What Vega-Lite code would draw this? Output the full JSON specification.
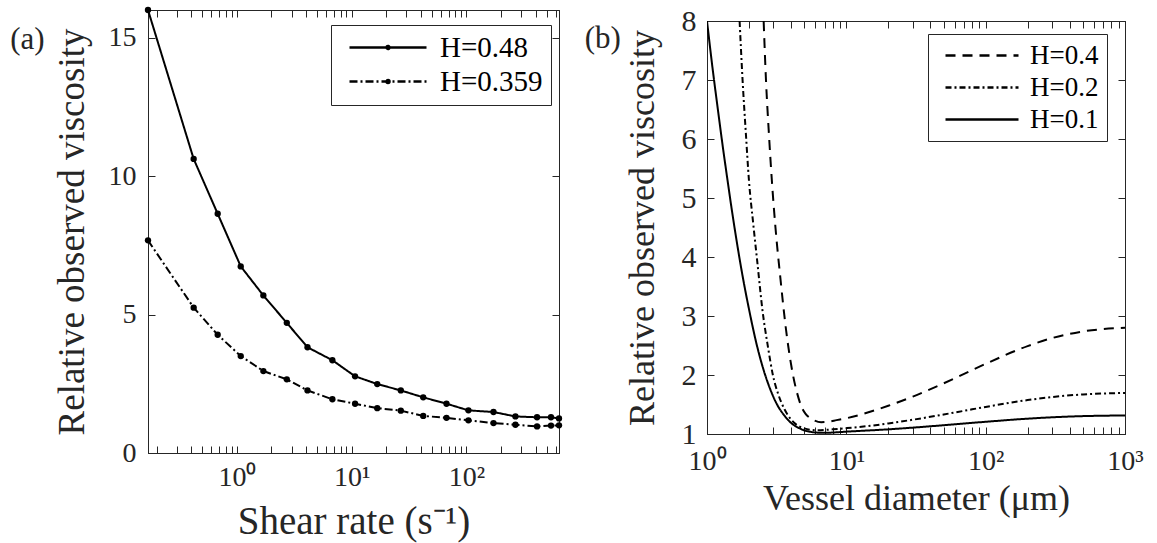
{
  "$schema": "https://vega.github.io/schema/vega-lite/v6.json",
  "background": "white",
  "padding": {"left": 9, "top": 5, "right": 5, "bottom": 5},
  "config": {
    "font": "Liberation Serif",
    "view": {"stroke": "#262626", "strokeWidth": 1},
    "axis": {
      "labelFont": "Liberation Serif", "titleFont": "Liberation Serif",
      "labelFontSize": 28, "titleFontSize": 37, "titleFontWeight": "normal",
      "labelColor": "#262626", "titleColor": "#262626",
      "domainColor": "#262626", "tickColor": "#262626",
      "grid": false, "tickSize": -7, "labelPadding": 10, "labelFlush": false
    },
    "legend": {
      "labelFont": "Liberation Serif", "labelColor": "black",
      "strokeColor": "#262626", "fillColor": "white", "cornerRadius": 0
    },
    "title": {"font": "Liberation Serif", "fontWeight": "normal", "fontSize": 31, "color": "#262626"}
  },
  "datasets": {
    "shear": [
      {"x": 0.168, "y": 16.0, "series": "H=0.48"},
      {"x": 0.42, "y": 10.62, "series": "H=0.48"},
      {"x": 0.68, "y": 8.64, "series": "H=0.48"},
      {"x": 1.08, "y": 6.74, "series": "H=0.48"},
      {"x": 1.7, "y": 5.69, "series": "H=0.48"},
      {"x": 2.72, "y": 4.7, "series": "H=0.48"},
      {"x": 4.12, "y": 3.82, "series": "H=0.48"},
      {"x": 6.79, "y": 3.35, "series": "H=0.48"},
      {"x": 10.7, "y": 2.77, "series": "H=0.48"},
      {"x": 16.7, "y": 2.49, "series": "H=0.48"},
      {"x": 26.8, "y": 2.26, "series": "H=0.48"},
      {"x": 42, "y": 2.01, "series": "H=0.48"},
      {"x": 67, "y": 1.78, "series": "H=0.48"},
      {"x": 104, "y": 1.54, "series": "H=0.48"},
      {"x": 172, "y": 1.48, "series": "H=0.48"},
      {"x": 267, "y": 1.32, "series": "H=0.48"},
      {"x": 412, "y": 1.29, "series": "H=0.48"},
      {"x": 545, "y": 1.29, "series": "H=0.48"},
      {"x": 640, "y": 1.25, "series": "H=0.48"},
      {"x": 0.168, "y": 7.68, "series": "H=0.359"},
      {"x": 0.42, "y": 5.25, "series": "H=0.359"},
      {"x": 0.68, "y": 4.27, "series": "H=0.359"},
      {"x": 1.08, "y": 3.5, "series": "H=0.359"},
      {"x": 1.7, "y": 2.96, "series": "H=0.359"},
      {"x": 2.72, "y": 2.66, "series": "H=0.359"},
      {"x": 4.12, "y": 2.26, "series": "H=0.359"},
      {"x": 6.79, "y": 1.94, "series": "H=0.359"},
      {"x": 10.7, "y": 1.78, "series": "H=0.359"},
      {"x": 16.7, "y": 1.62, "series": "H=0.359"},
      {"x": 26.8, "y": 1.53, "series": "H=0.359"},
      {"x": 42, "y": 1.34, "series": "H=0.359"},
      {"x": 67, "y": 1.27, "series": "H=0.359"},
      {"x": 104, "y": 1.18, "series": "H=0.359"},
      {"x": 172, "y": 1.08, "series": "H=0.359"},
      {"x": 267, "y": 1.02, "series": "H=0.359"},
      {"x": 412, "y": 0.96, "series": "H=0.359"},
      {"x": 545, "y": 0.99, "series": "H=0.359"},
      {"x": 640, "y": 1.0, "series": "H=0.359"}
    ],
    "vessel": [
      {"x": 2.55, "y": 8.0, "series": "H=0.4"},
      {"x": 2.65, "y": 7.0, "series": "H=0.4"},
      {"x": 2.78, "y": 6.1, "series": "H=0.4"},
      {"x": 2.92, "y": 5.3, "series": "H=0.4"},
      {"x": 3.1, "y": 4.5, "series": "H=0.4"},
      {"x": 3.36, "y": 3.65, "series": "H=0.4"},
      {"x": 3.7, "y": 2.75, "series": "H=0.4"},
      {"x": 4.14, "y": 2.0, "series": "H=0.4"},
      {"x": 4.45, "y": 1.68, "series": "H=0.4"},
      {"x": 4.75, "y": 1.47, "series": "H=0.4"},
      {"x": 5.1, "y": 1.34, "series": "H=0.4"},
      {"x": 5.5, "y": 1.27, "series": "H=0.4"},
      {"x": 5.9, "y": 1.23, "series": "H=0.4"},
      {"x": 6.6, "y": 1.2, "series": "H=0.4"},
      {"x": 7.5, "y": 1.21, "series": "H=0.4"},
      {"x": 8.5, "y": 1.235, "series": "H=0.4"},
      {"x": 10, "y": 1.267, "series": "H=0.4"},
      {"x": 15, "y": 1.381, "series": "H=0.4"},
      {"x": 20, "y": 1.478, "series": "H=0.4"},
      {"x": 30, "y": 1.634, "series": "H=0.4"},
      {"x": 50, "y": 1.859, "series": "H=0.4"},
      {"x": 70, "y": 2.019, "series": "H=0.4"},
      {"x": 100, "y": 2.189, "series": "H=0.4"},
      {"x": 200, "y": 2.49, "series": "H=0.4"},
      {"x": 300, "y": 2.626, "series": "H=0.4"},
      {"x": 500, "y": 2.739, "series": "H=0.4"},
      {"x": 1000, "y": 2.8, "series": "H=0.4"},
      {"x": 1.714, "y": 8.0, "series": "H=0.2"},
      {"x": 1.8, "y": 7.0, "series": "H=0.2"},
      {"x": 1.9, "y": 6.1, "series": "H=0.2"},
      {"x": 2.0, "y": 5.3, "series": "H=0.2"},
      {"x": 2.15, "y": 4.55, "series": "H=0.2"},
      {"x": 2.3, "y": 3.9, "series": "H=0.2"},
      {"x": 2.5, "y": 3.1, "series": "H=0.2"},
      {"x": 2.75, "y": 2.45, "series": "H=0.2"},
      {"x": 2.97, "y": 2.0, "series": "H=0.2"},
      {"x": 3.25, "y": 1.67, "series": "H=0.2"},
      {"x": 3.6, "y": 1.42, "series": "H=0.2"},
      {"x": 4.0, "y": 1.25, "series": "H=0.2"},
      {"x": 4.5, "y": 1.14, "series": "H=0.2"},
      {"x": 5.0, "y": 1.095, "series": "H=0.2"},
      {"x": 5.6, "y": 1.07, "series": "H=0.2"},
      {"x": 6.3, "y": 1.063, "series": "H=0.2"},
      {"x": 7, "y": 1.068, "series": "H=0.2"},
      {"x": 8, "y": 1.08, "series": "H=0.2"},
      {"x": 10, "y": 1.099, "series": "H=0.2"},
      {"x": 15, "y": 1.14, "series": "H=0.2"},
      {"x": 20, "y": 1.179, "series": "H=0.2"},
      {"x": 30, "y": 1.242, "series": "H=0.2"},
      {"x": 50, "y": 1.331, "series": "H=0.2"},
      {"x": 70, "y": 1.393, "series": "H=0.2"},
      {"x": 100, "y": 1.459, "series": "H=0.2"},
      {"x": 200, "y": 1.575, "series": "H=0.2"},
      {"x": 300, "y": 1.627, "series": "H=0.2"},
      {"x": 500, "y": 1.671, "series": "H=0.2"},
      {"x": 1000, "y": 1.696, "series": "H=0.2"},
      {"x": 1.0, "y": 8.0, "series": "H=0.1"},
      {"x": 1.1, "y": 7.17, "series": "H=0.1"},
      {"x": 1.2, "y": 6.48, "series": "H=0.1"},
      {"x": 1.3, "y": 5.86, "series": "H=0.1"},
      {"x": 1.4, "y": 5.32, "series": "H=0.1"},
      {"x": 1.5, "y": 4.83, "series": "H=0.1"},
      {"x": 1.6, "y": 4.4, "series": "H=0.1"},
      {"x": 1.8, "y": 3.68, "series": "H=0.1"},
      {"x": 2.0, "y": 3.12, "series": "H=0.1"},
      {"x": 2.25, "y": 2.56, "series": "H=0.1"},
      {"x": 2.5, "y": 2.15, "series": "H=0.1"},
      {"x": 2.8, "y": 1.8, "series": "H=0.1"},
      {"x": 3.2, "y": 1.49, "series": "H=0.1"},
      {"x": 3.6, "y": 1.31, "series": "H=0.1"},
      {"x": 4.0, "y": 1.19, "series": "H=0.1"},
      {"x": 4.5, "y": 1.11, "series": "H=0.1"},
      {"x": 5.0, "y": 1.06, "series": "H=0.1"},
      {"x": 5.6, "y": 1.035, "series": "H=0.1"},
      {"x": 6.3, "y": 1.022, "series": "H=0.1"},
      {"x": 7, "y": 1.02, "series": "H=0.1"},
      {"x": 8, "y": 1.025, "series": "H=0.1"},
      {"x": 10, "y": 1.04, "series": "H=0.1"},
      {"x": 15, "y": 1.062, "series": "H=0.1"},
      {"x": 20, "y": 1.079, "series": "H=0.1"},
      {"x": 30, "y": 1.108, "series": "H=0.1"},
      {"x": 50, "y": 1.149, "series": "H=0.1"},
      {"x": 70, "y": 1.178, "series": "H=0.1"},
      {"x": 100, "y": 1.207, "series": "H=0.1"},
      {"x": 200, "y": 1.26, "series": "H=0.1"},
      {"x": 300, "y": 1.283, "series": "H=0.1"},
      {"x": 500, "y": 1.303, "series": "H=0.1"},
      {"x": 1000, "y": 1.314, "series": "H=0.1"}
    ]
  },
  "spacing": 148,
  "bounds": "flush",
  "resolve": {
    "scale": {"x": "independent", "y": "independent", "strokeDash": "independent"},
    "legend": {"strokeDash": "independent"}
  },
  "hconcat": [
    {
      "width": 411,
      "height": 443,
      "title": {"text": "(a)", "frame": "group", "orient": "left", "angle": 0, "anchor": "end", "align": "right", "baseline": "top", "offset": -26, "dy": 15},
      "data": {"name": "shear"},
      "layer": [
        {
          "mark": {"type": "line", "color": "black", "strokeWidth": 2, "clip": true},
          "encoding": {
            "x": {
              "field": "x", "type": "quantitative",
              "scale": {"type": "log", "domain": [0.168, 640], "nice": false},
              "title": "Shear rate (s⁻¹)",
              "axis": {
                "labelPadding": 17, "titlePadding": 11, "titleFontSize": 39,
                "values": [0.2,0.3,0.4,0.5,0.6,0.7,0.8,0.9,1,2,3,4,5,6,7,8,9,10,20,30,40,50,60,70,80,90,100,200,300,400,500,600],
                "labelExpr": "datum.value == 1 ? '10⁰' : datum.value == 10 ? '10¹' : datum.value == 100 ? '10²' : ''",
                "encode": {"ticks": {"update": {"y2": {"signal": "abs(log(datum.value)/LN10 - round(log(datum.value)/LN10)) < 0.000001 ? -7 : -4"}}}}
              }
            },
            "y": {
              "field": "y", "type": "quantitative",
              "scale": {"domain": [0, 16], "nice": false},
              "title": "Relative observed viscosity",
              "axis": {"values": [0, 5, 10, 15], "labelPadding": 19, "titlePadding": 17, "titleFontSize": 37}
            },
            "strokeDash": {
              "field": "series", "type": "nominal",
              "scale": {"domain": ["H=0.48", "H=0.359"], "range": [[1, 0], [8, 3, 2, 3]]},
              "legend": {
                "title": null, "orient": "none", "legendX": 183, "legendY": 15,
                "symbolType": "M-0.4,0H7.3M3.3,0A0.15,0.15 0 1,0 3.6,0A0.15,0.15 0 1,0 3.3,0",
                "symbolSize": 400, "symbolStrokeWidth": 2.5,
                "symbolStrokeColor": "black", "symbolFillColor": "black",
                "labelFontSize": 29, "labelOffset": 72,
                "padding": 8, "rowPadding": 4
              }
            }
          }
        },
        {
          "mark": {"type": "point", "filled": true, "color": "black", "size": 40, "opacity": 1},
          "encoding": {
            "x": {"field": "x", "type": "quantitative", "axis": null},
            "y": {"field": "y", "type": "quantitative", "axis": null}
          }
        },
        {
          "mark": {"type": "line", "opacity": 0},
          "encoding": {
            "x": {
              "field": "x", "type": "quantitative",
              "axis": {
                "orient": "top", "labels": false, "title": null,
                "values": [0.2,0.3,0.4,0.5,0.6,0.7,0.8,0.9,1,2,3,4,5,6,7,8,9,10,20,30,40,50,60,70,80,90,100,200,300,400,500,600],
                "encode": {"ticks": {"update": {"y2": {"signal": "abs(log(datum.value)/LN10 - round(log(datum.value)/LN10)) < 0.000001 ? 7 : 4"}}}}
              }
            },
            "y": {
              "field": "y", "type": "quantitative",
              "axis": {"orient": "right", "labels": false, "title": null, "values": [0, 5, 10, 15]}
            }
          }
        }
      ],
      "resolve": {"axis": {"x": "independent", "y": "independent"}}
    },
    {
      "spacing": 0,
      "bounds": "flush",
      "vconcat": [
        {
          "width": 418,
          "height": 11,
          "data": {"values": [{}]},
          "mark": {"type": "rule", "opacity": 0},
          "encoding": {},
          "view": {"stroke": null}
        },
        {
          "width": 418,
          "height": 413,
          "title": {"text": "(b)", "frame": "group", "orient": "left", "angle": 0, "anchor": "end", "align": "right", "baseline": "top", "offset": -33, "dy": 3},
          "data": {"name": "vessel"},
          "layer": [
            {
              "mark": {"type": "line", "color": "black", "strokeWidth": 2, "clip": true, "interpolate": "monotone"},
              "encoding": {
                "x": {
                  "field": "x", "type": "quantitative",
                  "scale": {"type": "log", "domain": [1, 1000], "nice": false},
                  "title": "Vessel diameter (μm)",
                  "axis": {
                    "labelPadding": 20, "titlePadding": 6, "titleFontSize": 36,
                    "values": [1,2,3,4,5,6,7,8,9,10,20,30,40,50,60,70,80,90,100,200,300,400,500,600,700,800,900,1000],
                    "labelExpr": "datum.value == 1 ? '10⁰' : datum.value == 10 ? '10¹' : datum.value == 100 ? '10²' : datum.value == 1000 ? '10³' : ''",
                    "encode": {"ticks": {"update": {"y2": {"signal": "abs(log(datum.value)/LN10 - round(log(datum.value)/LN10)) < 0.000001 ? -7 : -4"}}}}
                  }
                },
                "y": {
                  "field": "y", "type": "quantitative",
                  "scale": {"domain": [1, 8], "nice": false, "zero": false},
                  "title": "Relative observed viscosity",
                  "axis": {"values": [1, 2, 3, 4, 5, 6, 7, 8], "labelPadding": 18, "labelFontSize": 30, "titlePadding": 20, "titleFontSize": 36}
                },
                "strokeDash": {
                  "field": "series", "type": "nominal",
                  "scale": {"domain": ["H=0.4", "H=0.2", "H=0.1"], "range": [[10, 7], [6, 3, 2, 3], [1, 0]]},
                  "legend": {
                    "title": null, "orient": "none", "legendX": 221, "legendY": 24,
                    "symbolType": "M-0.4,0H6.9", "symbolSize": 400, "symbolStrokeWidth": 2.5,
                    "symbolStrokeColor": "black", "symbolFillColor": "transparent",
                    "labelFontSize": 27, "labelOffset": 67,
                    "padding": 8, "rowPadding": 4
                  }
                }
              }
            },
            {
              "mark": {"type": "line", "opacity": 0},
              "encoding": {
                "x": {
                  "field": "x", "type": "quantitative",
                  "scale": {"type": "log", "domain": [1, 1000], "nice": false},
                  "axis": {
                    "orient": "top", "labels": false, "title": null,
                    "values": [1,2,3,4,5,6,7,8,9,10,20,30,40,50,60,70,80,90,100,200,300,400,500,600,700,800,900,1000],
                    "encode": {"ticks": {"update": {"y2": {"signal": "abs(log(datum.value)/LN10 - round(log(datum.value)/LN10)) < 0.000001 ? 7 : 4"}}}}
                  }
                },
                "y": {
                  "field": "y", "type": "quantitative",
                  "scale": {"domain": [1, 8], "nice": false, "zero": false},
                  "axis": {"orient": "right", "labels": false, "title": null, "values": [1, 2, 3, 4, 5, 6, 7, 8]}
                }
              }
            }
          ],
          "resolve": {"axis": {"x": "independent", "y": "independent"}}
        }
      ]
    }
  ]
}
